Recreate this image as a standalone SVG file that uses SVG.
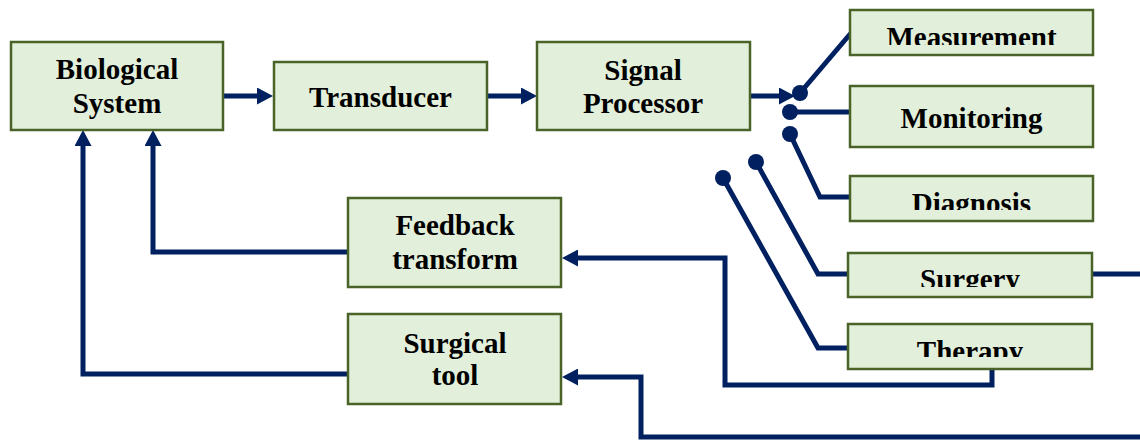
<svg xmlns="http://www.w3.org/2000/svg" width="1140" height="441" viewBox="0 0 1140 441">
<style>
.box{fill:#E2EFDA;stroke:#4A6329;stroke-width:2.5}
.lbl{font-family:'Liberation Serif',Tinos,'Times New Roman','DejaVu Serif',serif;font-weight:700;font-size:29px;fill:#000;text-anchor:middle}
.wire{fill:none;stroke:#002060;stroke-width:5;stroke-linejoin:miter}
.arr{marker-end:url(#ah)}
.dot{fill:#002060}
</style>
<defs>
<marker id="ah" markerUnits="userSpaceOnUse" viewBox="0 0 16 17" markerWidth="16" markerHeight="17" refX="6" refY="8.5" orient="auto">
<path d="M0,0 L16,8.5 L0,17 Z" fill="#002060"/>
</marker>
<clipPath id="cM" clipPathUnits="userSpaceOnUse"><rect x="850" y="10" width="243" height="35"/></clipPath>
<clipPath id="cD" clipPathUnits="userSpaceOnUse"><rect x="850" y="176" width="243" height="34"/></clipPath>
<clipPath id="cS" clipPathUnits="userSpaceOnUse"><rect x="848" y="253" width="244" height="34"/></clipPath>
<clipPath id="cT" clipPathUnits="userSpaceOnUse"><rect x="848" y="324" width="244" height="33"/></clipPath>
</defs>

<g id="connectors">
<path class="wire arr" d="M223,96 H263"/>
<path class="wire arr" d="M487,96 H527"/>
<path class="wire arr" d="M750,96 H785"/>
<path class="wire" d="M800,93 L851,33"/>
<path class="wire" d="M790,112 H850"/>
<path class="wire" d="M790,134 L820,197 H850"/>
<path class="wire" d="M756,162 L818,274 H848"/>
<path class="wire" d="M723,178 L818,348 H848"/>
<path class="wire" d="M1092,274 H1140"/>
<path class="wire arr" d="M992,369 V385 H725 V258 H572"/>
<path class="wire arr" d="M1140,437 H641 V377 H572"/>
<path class="wire arr" d="M348,252 H153 V140"/>
<path class="wire arr" d="M348,374 H83 V140"/>
<circle class="dot" cx="800" cy="93" r="8"/>
<circle class="dot" cx="790" cy="112" r="8"/>
<circle class="dot" cx="790" cy="134" r="8"/>
<circle class="dot" cx="756" cy="162" r="8"/>
<circle class="dot" cx="723" cy="178" r="8"/>
</g>

<g id="biological-system">
<rect class="box" x="11" y="42" width="212" height="88"/>
<text class="lbl" x="117" y="79">Biological</text>
<text class="lbl" x="117" y="113">System</text>
</g>
<g id="transducer">
<rect class="box" x="274" y="62" width="213" height="68"/>
<text class="lbl" x="380.5" y="107">Transducer</text>
</g>
<g id="signal-processor">
<rect class="box" x="537" y="42" width="213" height="88"/>
<text class="lbl" x="643" y="80">Signal</text>
<text class="lbl" x="643" y="113">Processor</text>
</g>
<g id="measurement">
<rect class="box" x="850" y="10" width="243" height="45"/>
<text class="lbl" x="971.5" y="47" clip-path="url(#cM)">Measurement</text>
</g>
<g id="monitoring">
<rect class="box" x="850" y="86" width="243" height="61"/>
<text class="lbl" x="971.5" y="128">Monitoring</text>
</g>
<g id="diagnosis">
<rect class="box" x="850" y="176" width="243" height="45"/>
<text class="lbl" x="971.5" y="213" clip-path="url(#cD)">Diagnosis</text>
</g>
<g id="surgery">
<rect class="box" x="848" y="253" width="244" height="44"/>
<text class="lbl" x="970" y="289" clip-path="url(#cS)">Surgery</text>
</g>
<g id="therapy">
<rect class="box" x="848" y="324" width="244" height="45"/>
<text class="lbl" x="970" y="361" clip-path="url(#cT)">Therapy</text>
</g>
<g id="feedback-transform">
<rect class="box" x="348" y="198" width="213" height="89"/>
<text class="lbl" x="455" y="235">Feedback</text>
<text class="lbl" x="455" y="269">transform</text>
</g>
<g id="surgical-tool">
<rect class="box" x="348" y="314" width="213" height="90"/>
<text class="lbl" x="455" y="353">Surgical</text>
<text class="lbl" x="455" y="385">tool</text>
</g>
</svg>
